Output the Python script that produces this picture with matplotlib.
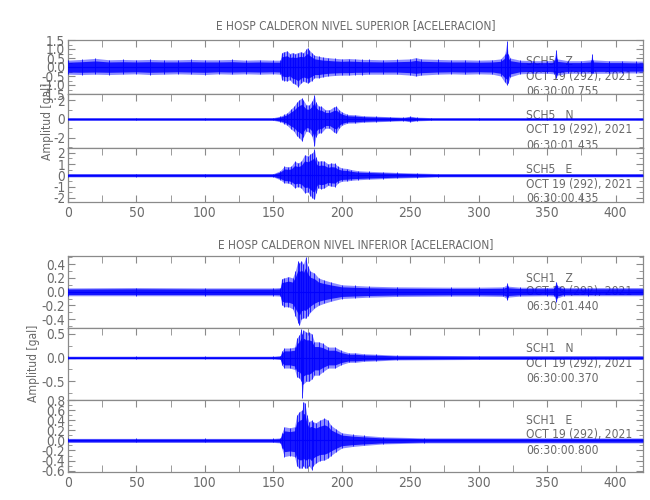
import matplotlib
matplotlib.use("Agg")
import matplotlib.pyplot as plt
from matplotlib.ticker import MultipleLocator, FormatStrFormatter
import matplotlib.transforms as mtransforms
from matplotlib import font_manager as fm

# ---------------- data (envelopes) ----------------
title_sup = "E HOSP CALDERON NIVEL SUPERIOR [ACELERACION]"
title_inf = "E HOSP CALDERON NIVEL INFERIOR [ACELERACION]"
ylabel = "Amplitud [gal]"

sup_z_t = [0, 10, 20, 30, 40, 50, 60, 70, 80, 90, 100, 110, 120, 130, 140, 150, 155, 156, 158, 160,
           162, 164, 166, 168, 170, 172, 174, 175, 176, 178, 180, 183, 186, 190, 195, 200, 205, 210,
           215, 220, 230, 240, 250, 254, 258, 270, 280, 290, 300, 310, 316, 319, 320.6, 321.4, 323, 330,
           340, 350, 355, 356.5, 357.5, 365, 375, 382, 382.6, 383.4, 395, 405, 415, 420]
sup_z_hi = [.38, .42, .48, .40, .42, .40, .42, .40, .40, .42, .40, .40, .42, .38, .40, .38, .38, .80, .85, .90,
            .75, .80, .75, .80, .85, .80, 1.0, 1.08, .95, .80, .65, .60, .55, .52, .48, .45, .47, .45,
            .42, .42, .40, .42, .45, .52, .45, .42, .40, .40, .38, .40, .45, .70, 1.42, .75, .50, .38,
            .35, .35, .38, .96, .45, .35, .35, .40, .72, .40, .35, .35, .33, .33]
sup_z_lo = [-.40, -.42, -.40, -.42, -.40, -.38, -.42, -.40, -.38, -.40, -.42, -.38, -.40, -.38, -.40, -.38, -.40, -.70, -.75, -.78,
            -.70, -.90, -.95, -1.10, -.90, -.80, -.85, -.90, -.85, -.75, -.60, -.60, -.55, -.50, -.47, -.45, -.45, -.42,
            -.42, -.40, -.40, -.40, -.45, -.50, -.45, -.40, -.38, -.40, -.38, -.40, -.50, -.85, -.98, -.90, -.55, -.38,
            -.35, -.35, -.38, -.60, -.45, -.35, -.35, -.35, -.35, -.35, -.35, -.33, -.33, -.33]

sup_n_t = [0, 50, 100, 150, 155, 158, 160, 163, 165, 167, 169, 171, 172, 174, 176, 178, 180, 181, 183,
           185, 188, 191, 194, 196, 198, 200, 204, 210, 216, 225, 235, 245, 250, 255, 265, 300, 350, 420]
sup_n_hi = [.15, .15, .15, .15, .3, .5, .65, 1.1, 1.37, 1.8, 2.1, 2.27, 2.0, 1.55, 1.5, 1.9, 2.56, 1.8, 1.4,
            1.37, 1.0, 1.0, 1.3, 1.37, 1.0, .76, .5, .45, .35, .3, .25, .2, .3, .2, .15, .15, .15, .15]
sup_n_lo = [-.15, -.15, -.15, -.15, -.3, -.5, -.68, -1.1, -1.33, -1.8, -2.05, -2.4, -1.9, -1.33, -1.4, -1.8, -2.95, -1.9, -1.5,
            -1.5, -1.0, -1.0, -1.4, -1.55, -1.0, -.68, -.45, -.43, -.35, -.3, -.25, -.2, -.3, -.2, -.15, -.15, -.15, -.15]

sup_e_t = [0, 50, 100, 150, 155, 158, 161, 163, 165.5, 168, 170.3, 172.8, 175.2, 177, 178.5, 180, 181,
           182.5, 185, 187.3, 190, 192, 195, 197, 200, 204, 207, 212, 220, 230, 240, 255, 270, 420]
sup_e_hi = [.15, .15, .15, .15, .4, .8, .75, .8, 1.24, 1.1, 1.24, 1.83, 1.7, 1.9, 2.0, 2.3, 1.6,
            1.24, 1.3, 1.24, 1.0, 1.09, 1.05, .8, .65, .6, .5, .4, .35, .3, .25, .2, .15, .15]
sup_e_lo = [-.15, -.15, -.15, -.15, -.4, -.68, -.7, -.8, -1.12, -1.0, -1.12, -1.56, -1.5, -1.8, -2.0, -2.15, -1.6,
            -1.12, -1.2, -1.12, -.9, -.97, -1.0, -.7, -.53, -.5, -.45, -.4, -.35, -.3, -.25, -.2, -.15, -.15]

inf_z_t = [0, 50, 100, 150, 155, 156, 158, 161, 164, 166, 168, 169, 170.5, 172, 173.5, 175, 177, 180, 183,
           187, 192, 200, 210, 220, 240, 280, 300, 318, 320.5, 321, 321.5, 330, 350, 355, 356.7, 357.5, 362, 380, 420]
inf_z_hi = [.055, .06, .055, .055, .06, .19, .2, .22, .2, .3, .45, .42, .45, .4, .5, .38, .3, .27, .2,
            .17, .14, .1, .09, .08, .07, .065, .065, .07, .1, .12, .08, .065, .06, .065, .146, .09, .06, .06, .06]
inf_z_lo = [-.06, -.06, -.06, -.06, -.065, -.19, -.22, -.22, -.25, -.35, -.45, -.49, -.4, -.38, -.39, -.35, -.3, -.24, -.2,
            -.17, -.14, -.1, -.09, -.08, -.07, -.065, -.065, -.07, -.1, -.12, -.08, -.065, -.06, -.065, -.146, -.09, -.06, -.06, -.06]

inf_n_t = [0, 50, 100, 150, 155, 156, 158, 162, 165.5, 167, 169, 170.3, 171, 172, 174, 176, 178, 180, 183,
           186, 190, 195, 199.5, 205, 210, 216, 225, 240, 300, 420]
inf_n_hi = [.03, .03, .03, .03, .04, .13, .2, .2, .22, .4, .48, .6, .5, .58, .53, .53, .5, .33, .33,
            .3, .22, .22, .15, .1, .1, .08, .07, .05, .04, .04]
inf_n_lo = [-.03, -.03, -.03, -.03, -.04, -.15, -.22, -.22, -.25, -.4, -.43, -.5, -.84, -.55, -.5, -.5, -.45, -.37, -.37,
            -.3, -.22, -.22, -.15, -.1, -.1, -.08, -.07, -.05, -.04, -.04]

inf_e_t = [0, 50, 100, 150, 155, 156, 158, 162, 165.5, 167, 169, 171, 171.8, 173, 174.5, 176, 178, 179, 181,
           184, 187.3, 189.8, 192, 196, 200, 208, 216, 230, 260, 420]
inf_e_hi = [.04, .04, .04, .04, .05, .14, .27, .25, .27, .5, .57, .6, .77, .74, .5, .37, .4, .37, .35,
            .4, .44, .4, .3, .22, .15, .12, .1, .07, .05, .05]
inf_e_lo = [-.04, -.04, -.04, -.04, -.05, -.15, -.32, -.3, -.32, -.5, -.55, -.55, -.5, -.55, -.55, -.5, -.58, -.5, -.45,
            -.4, -.39, -.35, -.3, -.22, -.15, -.12, -.1, -.07, -.05, -.05]

stations = ["SCH5   Z", "SCH5   N", "SCH5   E", "SCH1   Z", "SCH1   N", "SCH1   E"]
dates = ["OCT 19 (292), 2021"] * 6
times = ["06:30:00.755", "06:30:01.435", "06:30:00.435", "06:30:01.440", "06:30:00.370", "06:30:00.800"]

ylims = [(-1.5, 1.5), (-3.1, 2.7), (-2.35, 2.45), (-0.53, 0.52), (-0.89, 0.62), (-0.62, 0.80)]
ymajor = [0.5, 2, 1, 0.2, 0.5, 0.2]
yminor = [0.25, 1, 0.5, 0.1, 0.25, 0.1]
ylabfmt = ["%.1f", "%d", "%d", "%.1f", "%.1f", "%.1f"]
x_max = 420

traces = [(sup_z_t, sup_z_hi, sup_z_lo), (sup_n_t, sup_n_hi, sup_n_lo), (sup_e_t, sup_e_hi, sup_e_lo),
          (inf_z_t, inf_z_hi, inf_z_lo), (inf_n_t, inf_n_hi, inf_n_lo), (inf_e_t, inf_e_hi, inf_e_lo)]

# ---------------- font choice: narrowest available ----------------
def pick_font():
    cands = [("Liberation Sans Narrow", "normal", 1.14),
             ("DejaVu Sans", "condensed", 1.08),
             ("Roboto", "normal", 1.0),
             ("Liberation Sans", "normal", 0.97)]
    for fam, stretch, scale in cands:
        try:
            path = fm.findfont(fm.FontProperties(family=fam, stretch=stretch), fallback_to_default=False)
        except Exception:
            continue
        name = path.lower()
        key = fam.split()[0].lower()
        if key not in name:
            continue
        if stretch == "condensed" and "condensed" not in name:
            continue
        if fam == "Liberation Sans Narrow" and "narrow" not in name:
            continue
        return fam, stretch, scale
    return "DejaVu Sans", "normal", 0.9

FAM, STRETCH, SC = pick_font()
plt.rcParams['font.family'] = [FAM, 'DejaVu Sans']
plt.rcParams['font.stretch'] = STRETCH
FS_ANN = 8.0 * SC
FS_TITLE = 7.9 * SC
FS_XT = 9.2 * SC
FS_YT = 9.0 * SC

# ---------------- layout ----------------
W, H = 650, 500
fig = plt.figure(figsize=(6.5, 5.0), dpi=100)
fig.patch.set_facecolor("white")
L, R = 68, 643
panels_px = [(40, 94), (94, 147.7), (147.7, 201.7), (256, 328), (328, 400), (400, 471.7)]
text_fracs = [(0.60, 0.32, 0.045), (0.60, 0.33, 0.05), (0.59, 0.31, 0.06),
              (0.69, 0.50, 0.295), (0.71, 0.51, 0.30), (0.71, 0.52, 0.30)]
GRAY = "#8a8a8a"
TXT = "#6a6a6a"
BLUE = "#0000ff"

for i, (top, bot) in enumerate(panels_px):
    ax = fig.add_axes([L / W, 1 - bot / H, (R - L) / W, (bot - top) / H])
    t, hi, lo = traces[i]
    tr = mtransforms.blended_transform_factory(ax.transData, ax.transAxes)
    for s, fy in zip([stations[i], dates[i], times[i]], text_fracs[i]):
        ax.text(334.5, fy, s, transform=tr, fontsize=FS_ANN, color=TXT, va="center", ha="left", zorder=1)
    ax.fill_between(t, lo, hi, color=BLUE, alpha=0.45, lw=0, zorder=2)
    ax.fill_between(t, [0.7 * v for v in lo], [0.7 * v for v in hi], color=BLUE, alpha=0.85, lw=0, zorder=3)
    ax.vlines(t, lo, hi, color=BLUE, lw=0.7, alpha=0.8, zorder=3)
    ax.plot([0, x_max], [0, 0], color=BLUE, lw=0.8, zorder=3)
    ax.set_xlim(0, x_max)
    ax.set_ylim(*ylims[i])
    for sp in ax.spines.values():
        sp.set_color(GRAY)
        sp.set_linewidth(0.9)
    ax.xaxis.set_major_locator(MultipleLocator(50))
    ax.xaxis.set_minor_locator(MultipleLocator(25))
    ax.yaxis.set_major_locator(MultipleLocator(ymajor[i]))
    ax.yaxis.set_minor_locator(MultipleLocator(yminor[i]))
    last = i in (2, 5)
    ax.tick_params(axis="x", which="both", direction="in", top=True, bottom=last,
                   labelbottom=last, length=5, color=GRAY, labelcolor=TXT, labelsize=FS_XT, pad=3)
    ax.tick_params(axis="y", which="major", direction="in", left=True, right=True,
                   length=5, color=GRAY, labelcolor=TXT, labelsize=FS_YT, pad=2)
    ax.tick_params(axis="y", which="minor", direction="in", left=True, right=True,
                   length=3, color=GRAY)
    ax.yaxis.set_major_formatter(FormatStrFormatter(ylabfmt[i]))

fig.text(0.547, 1 - 26 / H, title_sup, ha="center", va="center", fontsize=FS_TITLE, color=TXT)
fig.text(0.547, 1 - 245 / H, title_inf, ha="center", va="center", fontsize=FS_TITLE, color=TXT)
fig.text(47 / W, 1 - 121 / H, ylabel, rotation=90, ha="center", va="center", fontsize=FS_ANN, color=TXT)
fig.text(34 / W, 1 - 363 / H, ylabel, rotation=90, ha="center", va="center", fontsize=FS_ANN, color=TXT)

fig.savefig("out.png", dpi=100)
